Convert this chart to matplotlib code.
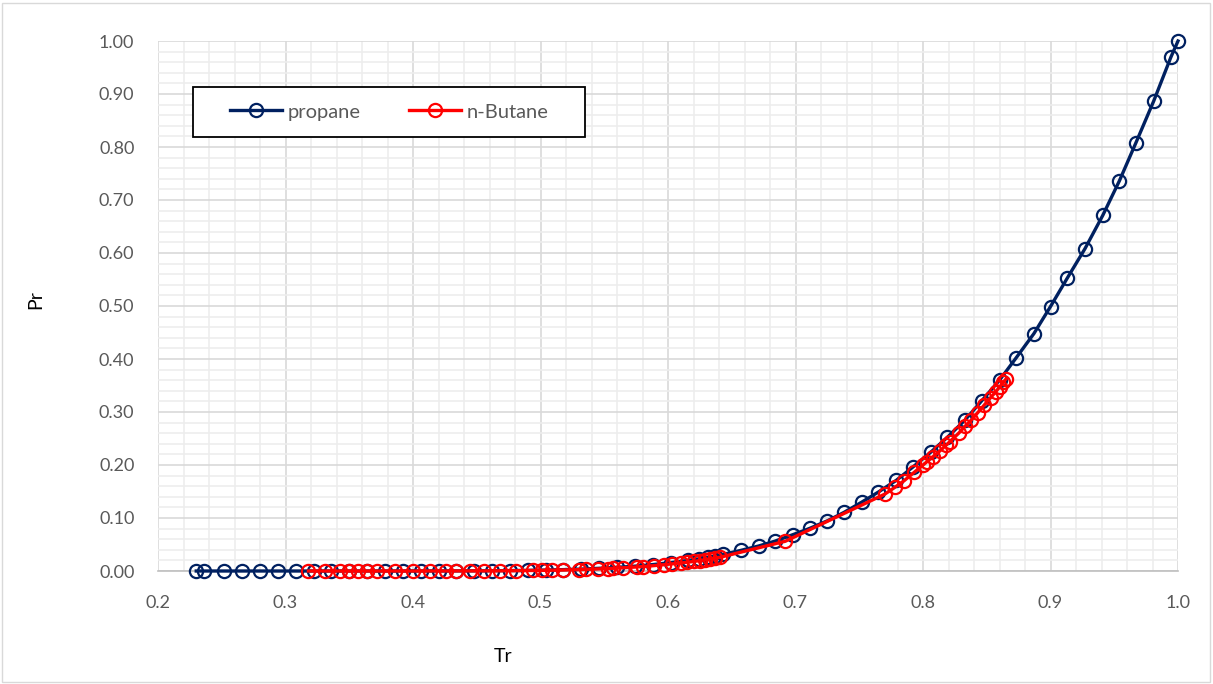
import matplotlib
matplotlib.use("Agg")
import matplotlib.pyplot as plt
from matplotlib.ticker import MultipleLocator, FormatStrFormatter
from matplotlib.patches import Rectangle

# reduced temperature / reduced pressure, saturation curve
tr_propane = [0.230, 0.236, 0.252, 0.266, 0.280, 0.294, 0.308, 0.322, 0.336, 0.350,
              0.364, 0.378, 0.392, 0.406, 0.420, 0.434, 0.448, 0.462, 0.476, 0.490,
              0.504, 0.518, 0.532, 0.546, 0.560, 0.574, 0.588, 0.602, 0.616, 0.624,
              0.631, 0.637, 0.643, 0.657, 0.671, 0.684, 0.698, 0.711, 0.725, 0.738,
              0.752, 0.765, 0.779, 0.792, 0.806, 0.819, 0.833, 0.846, 0.860, 0.873,
              0.887, 0.900, 0.913, 0.927, 0.941, 0.954, 0.967, 0.981, 0.9945, 1.000]
pr_propane = [0.0000, 0.0000, 0.0000, 0.0000, 0.0000, 0.0000, 0.0000, 0.0000, 0.0000, 0.0000,
              0.0000, 0.0000, 0.0000, 0.0001, 0.0001, 0.0002, 0.0003, 0.0005, 0.0008, 0.0012,
              0.0018, 0.0026, 0.0036, 0.0051, 0.0069, 0.0091, 0.0121, 0.0159, 0.0200, 0.0229,
              0.0257, 0.0284, 0.0313, 0.0388, 0.0471, 0.0564, 0.0686, 0.0803, 0.0947, 0.1105,
              0.130, 0.149, 0.171, 0.196, 0.224, 0.252, 0.285, 0.321, 0.360, 0.402,
              0.448, 0.499, 0.552, 0.608, 0.671, 0.736, 0.808, 0.887, 0.970, 1.000]

tr_butane = [0.318, 0.331, 0.343, 0.350, 0.357, 0.364, 0.372, 0.386, 0.400, 0.413,
             0.426, 0.434, 0.445, 0.456, 0.468, 0.481, 0.494, 0.501, 0.509, 0.518,
             0.530, 0.536, 0.545, 0.553, 0.557, 0.565, 0.576, 0.580, 0.589, 0.597,
             0.603, 0.610, 0.615, 0.620, 0.625, 0.629, 0.633, 0.637, 0.641, 0.692,
             0.770, 0.778, 0.785, 0.793, 0.800, 0.803, 0.808, 0.813, 0.818, 0.821,
             0.828, 0.833, 0.838, 0.843, 0.848, 0.853, 0.857, 0.860, 0.863, 0.865]
pr_butane = [0.0000, 0.0000, 0.0000, 0.0000, 0.0000, 0.0000, 0.0000, 0.0000, 0.0000, 0.0001,
             0.0001, 0.0002, 0.0002, 0.0003, 0.0004, 0.0006, 0.0010, 0.0012, 0.0015, 0.0019,
             0.0026, 0.0031, 0.0039, 0.0047, 0.0051, 0.0061, 0.0077, 0.0083, 0.0101, 0.0119,
             0.0134, 0.0151, 0.0165, 0.0180, 0.0196, 0.0211, 0.0226, 0.0242, 0.0260, 0.0561,
             0.145, 0.158, 0.170, 0.186, 0.200, 0.206, 0.216, 0.226, 0.237, 0.244,
             0.260, 0.273, 0.285, 0.299, 0.313, 0.327, 0.338, 0.347, 0.356, 0.362]

plt.rcParams['font.family'] = ['Lato', 'DejaVu Sans']

fig = plt.figure(figsize=(12.13, 6.84), dpi=100)
ax = fig.add_axes([158/1213, 1-571/684, 1020/1213, 530/684])

mk = dict(marker='o', markersize=9.5, markerfacecolor='none', markeredgewidth=1.6, clip_on=False)
ax.plot(tr_propane, pr_propane, color='#002060', lw=2.4, label='propane', zorder=3, **mk)
ax.plot(tr_butane, pr_butane, color='#ff0000', lw=2.4, label='n-Butane', zorder=4, **mk)

ax.set_xlim(0.2, 1.0)
ax.set_ylim(0.0, 1.0)
ax.xaxis.set_major_locator(MultipleLocator(0.1))
ax.xaxis.set_minor_locator(MultipleLocator(0.02))
ax.yaxis.set_major_locator(MultipleLocator(0.1))
ax.yaxis.set_minor_locator(MultipleLocator(0.02))
ax.xaxis.set_major_formatter(FormatStrFormatter('%.1f'))
ax.yaxis.set_major_formatter(FormatStrFormatter('%.2f'))

ax.grid(which='major', color='#d9d9d9', lw=1.2, zorder=0)
ax.grid(which='minor', color='#ededed', lw=1.2, zorder=0)
ax.set_axisbelow(True)
for s in ['top', 'right', 'left']:
    ax.spines[s].set_visible(False)
ax.spines['bottom'].set_color('#bfbfbf')
ax.spines['bottom'].set_linewidth(1.2)

ax.tick_params(which='both', length=0, labelsize=13, labelcolor='#595959')
ax.tick_params(axis='x', pad=17)
ax.tick_params(axis='y', pad=17)

fig.text(503/1213, 1-657/684, 'Tr', fontsize=14, ha='center', va='center', color='#000000')
fig.text(36/1213, 1-300/684, 'Pr', fontsize=14, ha='center', va='center', rotation=90, color='#000000')

# legend box
fig.add_artist(Rectangle((193/1213, 1-137/684), 392/1213, 50/684, transform=fig.transFigure,
                         facecolor='white', edgecolor='black', lw=1.3, zorder=4))
leg = fig.legend(loc='center', bbox_to_anchor=(389/1213, 1-112/684), ncol=2, frameon=False,
                 fontsize=14.5, handlelength=2.6, handletextpad=0.25, columnspacing=2.4)
for t in leg.get_texts():
    t.set_color('#595959')
leg.set_zorder(5)

# chart border
fig.add_artist(Rectangle((2/1213, 2/684), 1208/1213, 679/684, transform=fig.transFigure,
                         facecolor='none', edgecolor='#d9d9d9', lw=1.0))

fig.savefig('out.png', dpi=100)
